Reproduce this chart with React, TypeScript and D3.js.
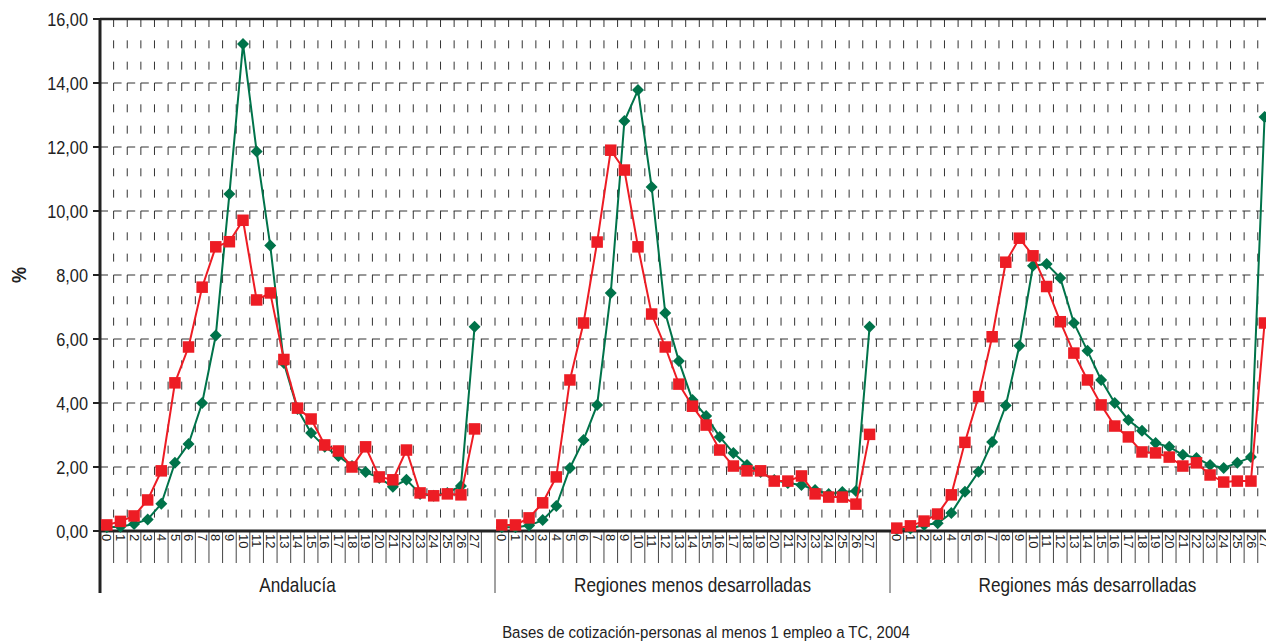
import React from "react";
import * as d3 from "d3";

const categories = ["0","1","2","3","4","5","6","7","8","9","10","11","12","13","14","15","16","17","18","19","20","21","22","23","24","25","26","27"];
const groups = ["Andalucía", "Regiones menos desarrolladas", "Regiones más desarrolladas"];
const yTicks = [0, 2, 4, 6, 8, 10, 12, 14, 16];

const redAndalucia = [0.19,0.3,0.47,0.97,1.88,4.63,5.75,7.62,8.88,9.04,9.71,7.22,7.44,5.36,3.84,3.5,2.69,2.5,2.0,2.63,1.69,1.6,2.53,1.19,1.1,1.16,1.13,3.19];
const greenAndalucia = [0.12,0.13,0.22,0.36,0.85,2.13,2.72,4.0,6.11,10.53,15.22,11.86,8.92,5.25,3.81,3.06,2.63,2.34,2.03,1.84,1.66,1.38,1.6,1.16,1.1,1.19,1.41,6.38];
const redMenos = [0.19,0.19,0.41,0.88,1.69,4.72,6.5,9.03,11.9,11.28,8.88,6.78,5.75,4.59,3.9,3.31,2.53,2.03,1.88,1.88,1.56,1.56,1.72,1.16,1.06,1.06,0.84,3.02];
const greenMenos = [0.12,0.12,0.17,0.34,0.78,1.97,2.84,3.94,7.44,12.81,13.78,10.75,6.81,5.31,4.09,3.59,2.94,2.44,2.06,1.84,1.59,1.5,1.44,1.28,1.16,1.22,1.25,6.38];
const redMas = [0.09,0.16,0.31,0.53,1.13,2.77,4.2,6.07,8.4,9.15,8.6,7.64,6.54,5.56,4.72,3.94,3.28,2.94,2.47,2.44,2.31,2.03,2.13,1.75,1.53,1.56,1.56,6.5];
const greenMas = [0.05,0.08,0.19,0.24,0.56,1.23,1.85,2.78,3.92,5.79,8.29,8.34,7.91,6.5,5.63,4.72,4.0,3.47,3.13,2.75,2.63,2.38,2.28,2.06,1.97,2.13,2.31,12.94];

const redSeries = [redAndalucia, redMenos, redMas];
const greenSeries = [greenAndalucia, greenMenos, greenMas];

const W = 1266, H = 644;
const RED = "#ED1C24";
const GREEN = "#00734A";
const FONT = "'Liberation Sans', Arial, sans-serif";
const SX = 0.86;

export default function App() {
  const slotsPerGroup = categories.length + 1;
  const slotKeys: string[] = [];
  groups.forEach((_, gi) => d3.range(slotsPerGroup).forEach((s) => slotKeys.push(`${gi}-${s}`)));
  const x = d3.scaleBand<string>().domain(slotKeys).range([100, 1285]).padding(0);
  const bw = x.bandwidth();
  const y = d3.scaleLinear().domain([0, 16]).range([531, 19]);
  const cx = (gi: number, i: number) => (x(`${gi}-${i}`) as number) + bw / 2;
  const plotRight = 1285;

  const line = d3.line<number>();

  const boundaries = slotKeys.map((k) => x(k) as number);
  const groupStarts = groups.map((_, gi) => x(`${gi}-0`) as number);

  const sq = 5.75;
  const dm = 6;

  return (
    <div style={{ position: "absolute", left: 0, top: 0, width: W, height: H, overflow: "hidden" }}>
      <svg width={W} height={H} style={{ display: "block" }} fontFamily={FONT}>
        <rect x={0} y={0} width={W} height={H} fill="#fff" />
        {/* vertical dashed grid */}
        {boundaries.slice(1).map((bx, i) => (
          <line key={"vg" + i} x1={bx} x2={bx} y1={y(16)} y2={y(0)} stroke="#333" strokeWidth={1} strokeDasharray="8,13.33" />
        ))}
        {/* horizontal dashed grid */}
        {yTicks.slice(1, -1).map((t) => (
          <line key={"hg" + t} x1={100} x2={plotRight} y1={y(t)} y2={y(t)} stroke="#333" strokeWidth={1} strokeDasharray="8,5.6" />
        ))}
        {/* top line */}
        <line x1={100} x2={plotRight} y1={y(16)} y2={y(16)} stroke="#222" strokeWidth={2.5} />
        {/* ticks below axis */}
        {boundaries.map((bx, i) => (
          <line key={"bt" + i} x1={bx} x2={bx} y1={y(0)} y2={i % slotsPerGroup === 0 ? 593 : 563} stroke="#444" strokeWidth={1} />
        ))}
        {/* y ticks and labels */}
        {yTicks.map((t) => (
          <g key={"yt" + t}>
            <line x1={93} x2={100} y1={y(t)} y2={y(t)} stroke="#222" strokeWidth={2} />
            <text transform={`translate(88,${y(t)}) scale(${SX},1)`} dy="0.35em" textAnchor="end" fontSize={19} fill="#222">
              {d3.format(".2f")(t).replace(".", ",")}
            </text>
          </g>
        ))}
        {/* axes */}
        <line x1={100} x2={plotRight} y1={y(0)} y2={y(0)} stroke="#222" strokeWidth={3} />
        <line x1={100} x2={100} y1={y(16) - 1} y2={593} stroke="#222" strokeWidth={3} />
        {/* category labels */}
        {groups.map((_, gi) =>
          categories.map((c, i) => (
            <text key={`cl${gi}-${i}`} transform={`translate(${cx(gi, i)},${y(0) + 3}) rotate(90) scale(1,0.95)`} dy="0.35em" fontSize={13} fill="#222">
              {c}
            </text>
          ))
        )}
        {/* group labels */}
        {groups.map((g, gi) => (
          <text key={"gl" + gi} transform={`translate(${groupStarts[gi] + (bw * slotsPerGroup) / 2},592) scale(${SX},1)`} textAnchor="middle" fontSize={20} fill="#222">
            {g}
          </text>
        ))}
        {/* series */}
        {greenSeries.map((vals, gi) => (
          <g key={"gs" + gi}>
            <path d={line(vals.map((v, i) => [cx(gi, i), y(v)]) as any) as string} fill="none" stroke={GREEN} strokeWidth={2} />
            {vals.map((v, i) => (
              <path key={i} d={`M${cx(gi, i)},${y(v) - dm}L${cx(gi, i) + dm},${y(v)}L${cx(gi, i)},${y(v) + dm}L${cx(gi, i) - dm},${y(v)}Z`} fill={GREEN} />
            ))}
          </g>
        ))}
        {redSeries.map((vals, gi) => (
          <g key={"rs" + gi}>
            <path d={line(vals.map((v, i) => [cx(gi, i), y(v)]) as any) as string} fill="none" stroke={RED} strokeWidth={2} />
            {vals.map((v, i) => (
              <rect key={i} x={cx(gi, i) - sq} y={y(v) - sq} width={sq * 2} height={sq * 2} fill={RED} />
            ))}
          </g>
        ))}
        {/* y title */}
        <text transform={`translate(26,275) rotate(-90) scale(${SX},1)`} textAnchor="middle" fontSize={21} fontWeight="bold" fill="#222">%</text>
        {/* bottom title */}
        <text transform={`translate(706,638) scale(0.88,1)`} textAnchor="middle" fontSize={17} fill="#222">
          Bases de cotización-personas al menos 1 empleo a TC, 2004
        </text>
      </svg>
    </div>
  );
}
